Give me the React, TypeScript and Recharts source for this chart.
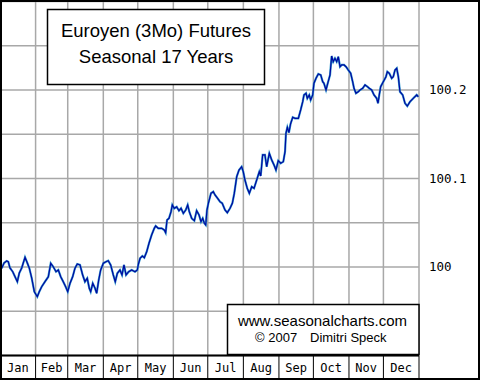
import React from "react";
import { LineChart, Line, XAxis, YAxis, CartesianGrid } from "recharts";

const monthNames = ["Jan", "Feb", "Mar", "Apr", "May", "Jun", "Jul", "Aug", "Sep", "Oct", "Nov", "Dec"];
const monthStarts = [0, 31, 59, 90, 120, 151, 181, 212, 243, 273, 304, 334, 365];
const yTicks = [99.9, 99.95, 100, 100.05, 100.1, 100.15, 100.2, 100.25, 100.3];
const yLabelled = ["100", "100.1", "100.2"];

// day of year, seasonal index value
const days = [
  1.5, 3.5, 5.8, 7.2, 8.7, 11.1, 13.1, 15.1, 16.8, 18.9, 21.8, 23.8, 25.5, 27.6, 29.9, 32.5, 34.2, 36.3,
  39.2, 42.1, 44.2, 46.4, 48.8, 50.8, 52.9, 55.1, 57.2, 59.0, 61.0, 63.3, 65.3, 67.3, 69.7, 72.0, 74.0,
  76.0, 77.8, 79.0, 80.8, 82.8, 84.2, 86.0, 87.7, 90.0, 92.3, 94.3, 96.4, 98.7, 100.4, 102.2, 104.5,
  106.3, 108.0, 109.8, 112.1, 114.7, 117.6, 119.6, 120.6, 122.0, 124.0, 125.7, 127.8, 129.8, 132.1,
  134.4, 135.6, 137.9, 140.9, 143.1, 144.3, 145.5, 147.2, 149.0, 150.1, 151.8, 153.9, 155.9, 157.7,
  159.7, 161.8, 163.5, 164.9, 167.0, 169.3, 171.3, 173.4, 175.1, 176.6, 178.0, 179.2, 180.3, 181.5,
  183.8, 185.8, 187.3, 189.6, 191.6, 193.6, 196.0, 198.0, 200.4, 202.4, 204.1, 206.2, 208.2, 210.5,
  211.9, 213.4, 215.4, 217.2, 219.3, 221.3, 223.6, 225.9, 227.1, 228.8, 230.8, 232.3, 234.6, 236.7,
  238.7, 240.4, 242.4, 244.5, 246.8, 248.3, 249.1, 250.3, 251.7, 253.1, 255.0, 257.0, 259.9, 261.9,
  263.7, 264.8, 266.6, 267.7, 269.4, 270.6, 272.4, 273.5, 275.3, 277.3, 279.4, 281.1, 282.2, 284.0,
  285.5, 287.5, 288.9, 290.3, 291.8, 293.3, 294.7, 296.2, 297.7, 299.7, 301.4, 303.4, 305.5, 307.2,
  308.4, 310.1, 312.1, 313.6, 315.9, 318.0, 320.0, 321.7, 323.8, 325.8, 328.1, 329.3, 330.4, 331.6,
  333.9, 336.2, 337.4, 339.1, 341.2, 342.6, 344.1, 345.6, 347.0, 348.4, 350.8, 352.8, 354.8, 357.2,
  360.0, 363.0, 364.4,
];
const values = [
  99.9985, 100.0045, 100.0068, 100.006, 99.9989, 99.9947, 99.989, 99.9834, 99.9932, 99.9989, 100.011,
  100.0045, 99.9989, 99.9876, 99.9721, 99.9664, 99.9721, 99.9777, 99.9834, 99.989, 100.0042, 100.0003,
  99.9947, 99.9966, 99.989, 99.9834, 99.9777, 99.9721, 99.9816, 99.989, 99.9985, 100.0034, 100.0023,
  99.991, 99.9834, 99.9872, 99.9759, 99.9721, 99.9816, 99.9759, 99.9703, 99.9853, 99.9966, 100.0042,
  100.006, 100.0071, 100.0023, 99.991, 99.9834, 99.9929, 99.9966, 99.991, 100.0023, 99.991, 99.9947,
  99.9966, 99.9947, 99.9966, 100.0034, 100.0098, 100.0124, 100.0105, 100.0173, 100.0268, 100.0362,
  100.0437, 100.0463, 100.0437, 100.0437, 100.0418, 100.0388, 100.0531, 100.055, 100.0625, 100.0701,
  100.0663, 100.0681, 100.0636, 100.0663, 100.0607, 100.0644, 100.0701, 100.0625, 100.055, 100.0523,
  100.0636, 100.0588, 100.0512, 100.055, 100.0494, 100.0475, 100.0644, 100.072, 100.0833, 100.0851,
  100.0814, 100.0776, 100.0738, 100.072, 100.0644, 100.0614, 100.0663, 100.072, 100.0833, 100.102,
  100.1096, 100.1133, 100.1077, 100.0983, 100.0889, 100.0833, 100.0907, 100.0889, 100.0983, 100.1077,
  100.1028, 100.1266, 100.1266, 100.1133, 100.1285, 100.1209, 100.1153, 100.1096, 100.1201, 100.1172,
  100.119, 100.1303, 100.1511, 100.1579, 100.1518, 100.1616, 100.1692, 100.168, 100.168, 100.1774,
  100.1868, 100.1944, 100.1963, 100.1906, 100.1944, 100.1887, 100.1944, 100.2076, 100.2132, 100.2181,
  100.217, 100.2094, 100.2076, 100.2, 100.2076, 100.217, 100.2384, 100.232, 100.2358, 100.232, 100.2376,
  100.2263, 100.2283, 100.2283, 100.2263, 100.2226, 100.2189, 100.2094, 100.2019, 100.1963, 100.1981,
  100.2, 100.2019, 100.2057, 100.2038, 100.2019, 100.2, 100.1944, 100.1906, 100.185, 100.1944, 100.2038,
  100.2094, 100.215, 100.2207, 100.2189, 100.2132, 100.215, 100.2226, 100.2245, 100.215, 100.1981,
  100.1944, 100.185, 100.1819, 100.1868, 100.1906, 100.1944, 100.1924,
];

const data = days.map((day, i) => ({ day, value: values[i] }));
const monthMids = monthNames.map((_, i) => (monthStarts[i] + monthStarts[i + 1]) / 2);

const mono = "'DejaVu Sans Mono', monospace";
const sans = "'Liberation Sans', Arial, sans-serif";

function formatY(v: number) {
  const s = v.toFixed(2).replace(/0+$/, "").replace(/\.$/, "");
  return yLabelled.includes(s) ? s : "";
}

export default function App() {
  return (
    <div style={{ position: "absolute", left: 0, top: 0, width: 480, height: 380, background: "#fff" }}>
      <LineChart width={480} height={380} data={data} margin={{ top: 1.5, right: 0, bottom: 0.5, left: 0 }}>
        <CartesianGrid stroke="#a8a8a8" strokeWidth={1.5} />
        {/* month boundaries: grid + divider lines in the label strip */}
        <XAxis
          type="number"
          dataKey="day"
          domain={[0, 365]}
          ticks={monthStarts}
          height={1}
          axisLine={{ stroke: "#000", strokeWidth: 2 }}
          tickLine={{ stroke: "#000", strokeWidth: 1 }}
          tickSize={23}
          interval={0}
          tickFormatter={() => ""}
        />
        {/* month names */}
        <XAxis
          xAxisId="m"
          type="number"
          dataKey="day"
          domain={[0, 365]}
          ticks={monthMids}
          height={23}
          axisLine={false}
          tickLine={false}
          tickSize={0}
          tickMargin={7}
          interval={0}
          tickFormatter={(_v: number, i: number) => monthNames[i]}
          tick={{ fill: "#000", fontFamily: mono, fontSize: 12 }}
        />
        <YAxis
          orientation="right"
          domain={[99.9, 100.3]}
          ticks={yTicks}
          width={61}
          axisLine={false}
          tickLine={false}
          tickSize={6}
          tickMargin={4}
          interval={0}
          tickFormatter={formatY}
          tick={{ fill: "#000", fontFamily: mono, fontSize: 12.5, textAnchor: "start" }}
        />
        <Line type="linear" dataKey="value" stroke="#3a9fd0" strokeWidth={2.2} dot={false} isAnimationActive={false} />
        <Line type="linear" dataKey="value" stroke="#0008a0" strokeWidth={1.2} dot={false} isAnimationActive={false} />
      </LineChart>
      <svg width={480} height={380} style={{ position: "absolute", left: 0, top: 0, pointerEvents: "none" }}>
        <rect x={47.5} y={9.5} width={217} height={75} fill="#fff" stroke="#000" strokeWidth={1.5} />
        <text x={156} y={37} textAnchor="middle" fontFamily={sans} fontSize={18.5} fill="#000">
          Euroyen (3Mo) Futures
        </text>
        <text x={156} y={63} textAnchor="middle" fontFamily={sans} fontSize={18.5} fill="#000">
          Seasonal 17 Years
        </text>
        <rect x={227.5} y={304.5} width={191.5} height={50} fill="#fff" stroke="#000" strokeWidth={1.5} />
        <text x={322.5} y={326} textAnchor="middle" fontFamily={sans} fontSize={15} fill="#000">
          www.seasonalcharts.com
        </text>
        <text x={255} y={342} fontFamily={sans} fontSize={13} fill="#000">
          © 2007
        </text>
        <text x={310} y={342} fontFamily={sans} fontSize={13} fill="#000">
          Dimitri Speck
        </text>
        <rect x={1} y={1} width={478} height={378} fill="none" stroke="#000" strokeWidth={2} />
      </svg>
    </div>
  );
}
